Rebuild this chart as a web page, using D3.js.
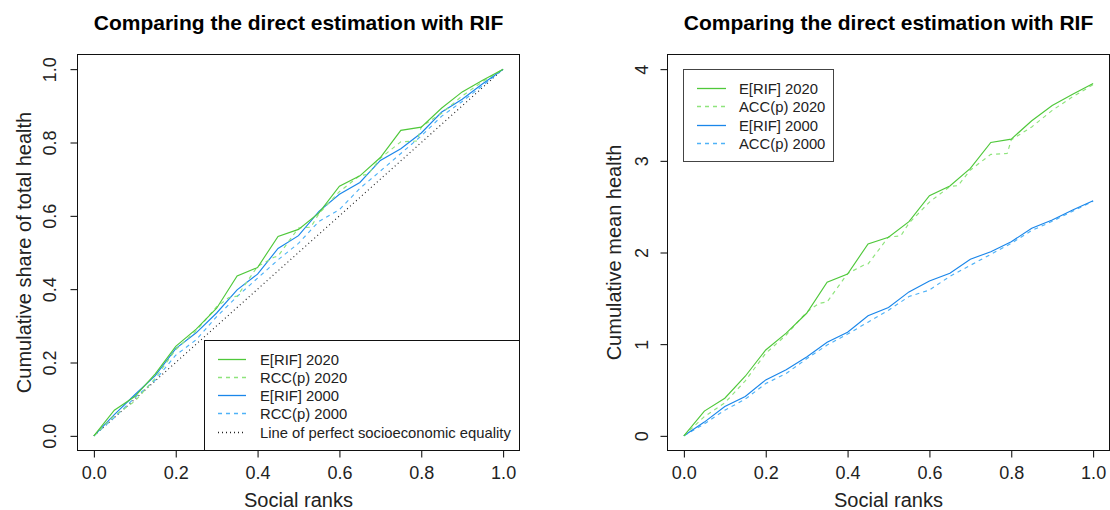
<!DOCTYPE html>
<html>
<head>
<meta charset="utf-8">
<script src="https://cdn.jsdelivr.net/npm/d3@7"></script>
<style>
html,body{margin:0;padding:0;background:#fff;}
svg{display:block;font-family:"Liberation Sans",Arial,Helvetica,sans-serif;}
</style>
</head>
<body>
<svg id="chart" width="1110" height="510"></svg>
<script>
// ---------- data ----------
const ranks = [0,0.05,0.1,0.15,0.2,0.25,0.3,0.35,0.4,0.45,0.5,0.55,0.6,0.65,0.7,0.75,0.8,0.85,0.9,0.95,1];
const dashRanks2020 = [0,0.05,0.1,0.15,0.2,0.25,0.3,0.33,0.35,0.4,0.44,0.45,0.5,0.53,0.55,0.6,0.65,0.67,0.7,0.75,0.79,0.8,0.85,0.9,0.95,1];

// left panel: cumulative share of total health
const eRif2020Share = [0,0.070,0.107,0.169,0.244,0.291,0.348,0.436,0.459,0.544,0.563,0.608,0.681,0.709,0.759,0.833,0.842,0.894,0.938,0.970,1];
const rcc2020 = [0,0.055,0.094,0.157,0.235,0.287,0.352,0.377,0.381,0.462,0.487,0.490,0.567,0.569,0.606,0.666,0.710,0.713,0.757,0.802,0.804,0.843,0.880,0.927,0.966,1];
const eRif2000Share = [0,0.058,0.112,0.164,0.238,0.281,0.335,0.398,0.441,0.511,0.546,0.612,0.659,0.691,0.751,0.783,0.826,0.883,0.918,0.960,1];
const rcc2000 = [0,0.050,0.104,0.152,0.220,0.262,0.325,0.380,0.430,0.480,0.525,0.585,0.617,0.675,0.722,0.770,0.818,0.872,0.912,0.955,1];
const equalityRanks = [0,1];
const equalityShare = [0,1];

// right panel: cumulative mean health
const eRif2020Mean = [0,0.27,0.41,0.65,0.937,1.12,1.337,1.675,1.766,2.093,2.166,2.336,2.619,2.725,2.918,3.201,3.237,3.437,3.604,3.727,3.844];
const acc2020 = [0,0.21,0.36,0.60,0.90,1.10,1.35,1.445,1.46,1.77,1.864,1.875,2.17,2.18,2.32,2.55,2.72,2.73,2.90,3.07,3.08,3.23,3.37,3.55,3.70,3.83];
const eRif2000Mean = [0,0.15,0.32,0.43,0.61,0.72,0.86,1.02,1.13,1.31,1.40,1.57,1.69,1.773,1.926,2.009,2.118,2.264,2.354,2.463,2.565];
const acc2000 = [0,0.13,0.28,0.40,0.57,0.68,0.84,0.99,1.11,1.24,1.37,1.52,1.59,1.74,1.86,1.98,2.10,2.24,2.34,2.45,2.56];

const xTicks = [0,0.2,0.4,0.6,0.8,1.0];
const yTicksLeft = [0,0.2,0.4,0.6,0.8,1.0];
const yTicksRight = [0,1,2,3,4];

const titleText = "Comparing the direct estimation with RIF";
const xLabelText = "Social ranks";
const yLabelLeft = "Cumulative share of total health";
const yLabelRight = "Cumulative mean health";

const legendLeft = ["E[RIF] 2020","RCC(p) 2020","E[RIF] 2000","RCC(p) 2000","Line of perfect socioeconomic equality"];
const legendRight = ["E[RIF] 2020","ACC(p) 2020","E[RIF] 2000","ACC(p) 2000"];

// ---------- styles ----------
const GREEN = "#4fc83a", GREEN_L = "#8ee47c", BLUE = "#1a86ea", BLUE_L = "#4fb2f7";
const styles = {
  g: {color: GREEN, dash: null},
  gd: {color: GREEN_L, dash: "4,4"},
  b: {color: BLUE, dash: null},
  bd: {color: BLUE_L, dash: "4,4"},
  eq: {color: "#222", dash: "1,3"}
};
const FONT = "Liberation Sans, Arial, Helvetica, sans-serif";

const svg = d3.select("#chart");

function panel(opt) {
  const x = d3.scaleLinear().domain([-0.04, 1.04]).range([opt.left, opt.right]);
  const y = d3.scaleLinear().domain(opt.yDomain).range([opt.bottom, opt.top]);
  const g = svg.append("g");

  // title
  g.append("text").attr("x", (opt.left + opt.right) / 2).attr("y", 30)
    .attr("text-anchor", "middle").attr("font-size", 21).attr("font-weight", "bold")
    .attr("fill", "#000").text(titleText);

  // series
  const line = d3.line().x(d => x(d[0])).y(d => y(d[1]));
  opt.series.forEach(s => {
    const st = styles[s.style];
    g.append("path").attr("d", line(d3.zip(s.xs, s.ys)))
      .attr("fill", "none").attr("stroke", st.color).attr("stroke-width", 1.15)
      .attr("stroke-dasharray", st.dash);
  });

  // x axis
  const xa = g.append("g").attr("transform", `translate(0,${opt.bottom})`)
    .call(d3.axisBottom(x).tickValues(xTicks).tickFormat(d3.format(".1f")).tickSize(7).tickPadding(9));
  xa.select(".domain").remove();
  xa.selectAll("line").attr("stroke", "#000");
  xa.selectAll("text").attr("font-size", 18).attr("fill", "#222").attr("font-family", FONT);

  // y axis
  const ya = g.append("g").attr("transform", `translate(${opt.left},0)`)
    .call(d3.axisLeft(y).tickValues(opt.yTicks).tickFormat(opt.yFmt).tickSize(7).tickPadding(0));
  ya.select(".domain").remove();
  ya.selectAll("line").attr("stroke", "#000");
  ya.selectAll("text").attr("font-size", 18).attr("fill", "#222").attr("font-family", FONT)
    .attr("text-anchor", "middle").attr("dy", null).attr("x", 0).attr("y", 0)
    .attr("transform", `translate(${opt.yTickX - opt.left},0) rotate(-90)`);

  // plot box
  g.append("rect").attr("x", opt.left).attr("y", opt.top)
    .attr("width", opt.right - opt.left).attr("height", opt.bottom - opt.top)
    .attr("fill", "none").attr("stroke", "#111").attr("stroke-width", 1);

  // axis labels
  g.append("text").attr("x", x(0.5)).attr("y", 507).attr("text-anchor", "middle")
    .attr("font-size", 20).attr("fill", "#222").text(xLabelText);
  g.append("text").attr("transform", `translate(${opt.yLabelX},${(opt.top + opt.bottom) / 2}) rotate(-90)`)
    .attr("text-anchor", "middle").attr("font-size", 20).attr("fill", "#222").text(opt.yLabel);

  // legend
  const L = opt.legend;
  g.append("rect").attr("x", L.x0).attr("y", L.y0).attr("width", L.x1 - L.x0).attr("height", L.y1 - L.y0)
    .attr("fill", "#fff").attr("stroke", L.stroke).attr("stroke-width", 1);
  L.items.forEach((t, i) => {
    const st = styles[L.styles[i]];
    const yy = Math.round(L.rowY + i * L.step) + 0.5;
    g.append("line").attr("x1", L.lx0).attr("x2", L.lx1).attr("y1", yy).attr("y2", yy)
      .attr("stroke", st.color).attr("stroke-width", 1.3).attr("stroke-dasharray", st.dash);
    g.append("text").attr("x", L.tx).attr("y", yy + 5.5).attr("font-size", 14.8).attr("fill", "#222").text(t);
  });
}

panel({
  left: 77.5, right: 519.5, top: 54.5, bottom: 450.5,
  yDomain: [-0.04, 1.04], yTicks: yTicksLeft, yFmt: d3.format(".1f"),
  yTickX: 56, yLabelX: 31, yLabel: yLabelLeft,
  series: [
    {xs: equalityRanks, ys: equalityShare, style: "eq"},
    {xs: ranks, ys: rcc2000, style: "bd"},
    {xs: ranks, ys: eRif2000Share, style: "b"},
    {xs: dashRanks2020, ys: rcc2020, style: "gd"},
    {xs: ranks, ys: eRif2020Share, style: "g"}
  ],
  legend: {x0: 204.5, x1: 519.5, y0: 340.5, y1: 450.5, stroke: "#111",
    lx0: 218, lx1: 246, tx: 260, rowY: 358.5, step: 18.3,
    items: legendLeft, styles: ["g","gd","b","bd","eq"]}
});

panel({
  left: 667.5, right: 1109.5, top: 54.5, bottom: 450.5,
  yDomain: [-0.16, 4.16], yTicks: yTicksRight, yFmt: d3.format("d"),
  yTickX: 648, yLabelX: 621, yLabel: yLabelRight,
  series: [
    {xs: ranks, ys: acc2000, style: "bd"},
    {xs: ranks, ys: eRif2000Mean, style: "b"},
    {xs: dashRanks2020, ys: acc2020, style: "gd"},
    {xs: ranks, ys: eRif2020Mean, style: "g"}
  ],
  legend: {x0: 683.5, x1: 833.5, y0: 69.5, y1: 161.5, stroke: "#444",
    lx0: 697, lx1: 726, tx: 739, rowY: 87.5, step: 18.5,
    items: legendRight, styles: ["g","gd","b","bd"]}
});
</script>
</body>
</html>
